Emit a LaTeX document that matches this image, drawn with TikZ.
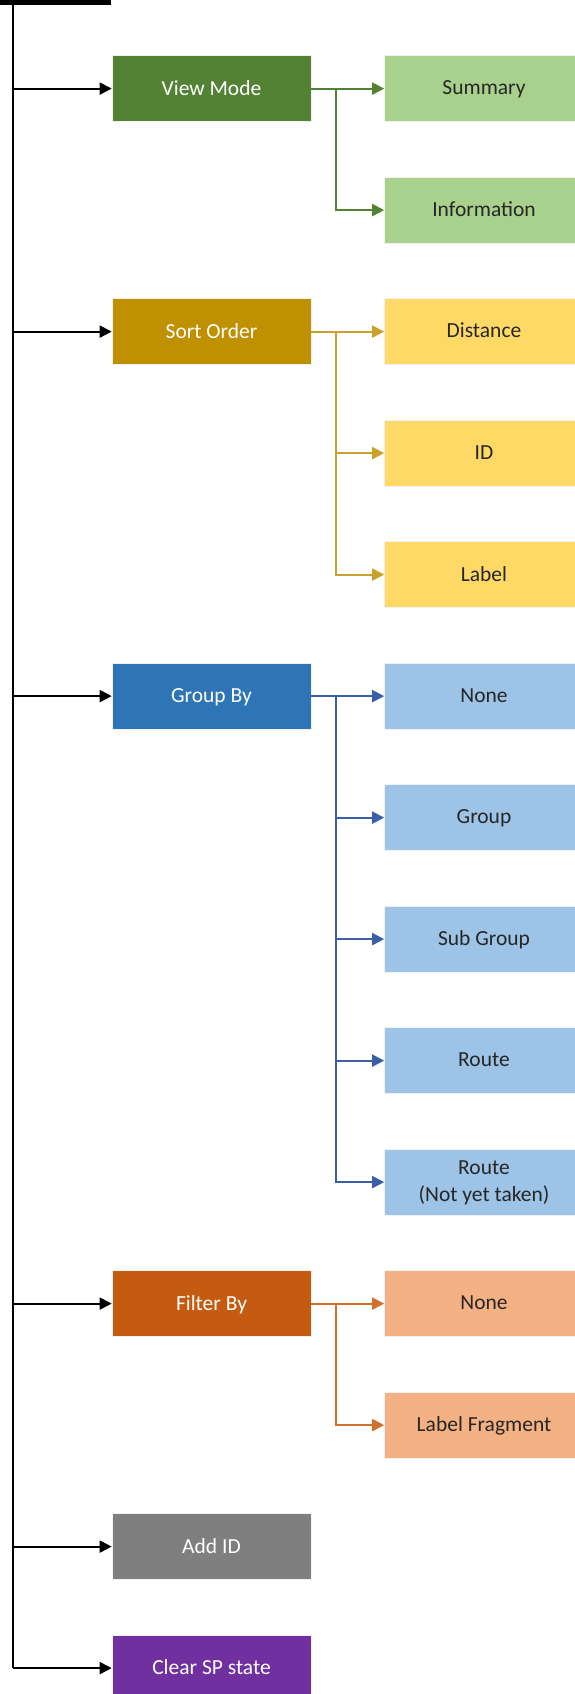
\documentclass[tikz,border=0pt]{standalone}
\usepackage{fontspec}
\setmainfont{Carlito}
\usetikzlibrary{arrows.meta}

\definecolor{modedark}{HTML}{548235}
\definecolor{modelight}{HTML}{A9D18E}
\definecolor{sortdark}{HTML}{BF9000}
\definecolor{sortlight}{HTML}{FFD966}
\definecolor{sortline}{HTML}{C9A12B}
\definecolor{groupdark}{HTML}{2E75B6}
\definecolor{grouplight}{HTML}{9DC3E6}
\definecolor{groupline}{HTML}{3B5EA8}
\definecolor{filterdark}{HTML}{C55A11}
\definecolor{filterlight}{HTML}{F4B183}
\definecolor{filterline}{HTML}{D0702A}
\definecolor{adddark}{HTML}{7F7F7F}
\definecolor{cleardark}{HTML}{7030A0}

\tikzset{
    box/.style={rectangle, draw=white!90!gray, line width=0.6pt, minimum width=199pt,
        minimum height=66pt, inner sep=0pt, align=center, text depth=0.2em,
        font=\fontsize{21.5}{27}\selectfont},
    menubox/.style={box, fill=#1, text=white},
    optionbox/.style={box, fill=#1, text=black!85},
    trunkarrow/.style={black, line width=1.8pt, -{Triangle[length=12pt,width=12pt]}},
    branch/.style={#1, line width=2pt, -{Triangle[length=12pt,width=12pt]}}
}

\begin{document}
\begin{tikzpicture}[x=1pt, y=-1pt]
    \useasboundingbox (0,0) rectangle (575,1694);

    % Root (cut off at the top)
    \fill[black] (0,0) rectangle (111,5);
    \coordinate (top) at (13,0);

    % Menu entries
    \node[menubox=modedark]   (viewmode)  at (211.5,88.6)   {View Mode};
    \node[menubox=sortdark]   (sortorder) at (211.5,331.6)  {Sort Order};
    \node[menubox=groupdark]  (groupby)   at (211.5,696.1)  {Group By};
    \node[menubox=filterdark] (filterby)  at (211.5,1303.6) {Filter By};
    \node[menubox=adddark]    (addid)     at (211.5,1546.6) {Add ID};
    \node[menubox=cleardark]  (clearsp)   at (211.5,1668.1) {Clear SP state};

    % Options
    \node[optionbox=modelight]   (summary)    at (484,88.6)   {Summary};
    \node[optionbox=modelight]   (info)       at (484,210.1)  {Information};
    \node[optionbox=sortlight]   (distance)   at (484,331.6)  {Distance};
    \node[optionbox=sortlight]   (sortid)     at (484,453.1)  {ID};
    \node[optionbox=sortlight]   (sortlabel)  at (484,574.6)  {Label};
    \node[optionbox=grouplight]  (groupnone)  at (484,696.1)  {None};
    \node[optionbox=grouplight]  (group)      at (484,817.6)  {Group};
    \node[optionbox=grouplight]  (subgroup)   at (484,939.1)  {Sub Group};
    \node[optionbox=grouplight]  (route)      at (484,1060.6) {Route};
    \node[optionbox=grouplight]  (routenext)  at (484,1182.1) {Route\\(Not yet taken)};
    \node[optionbox=filterlight] (filternone) at (484,1303.6) {None};
    \node[optionbox=filterlight] (fragment)   at (484,1425.1) {Label Fragment};

    % Trunk
    \draw[black, line width=1.8pt] (top) -- (clearsp.west -| top);
    \draw[trunkarrow] (viewmode.west -| top) -- (viewmode.west);
    \draw[trunkarrow] (sortorder.west -| top) -- (sortorder.west);
    \draw[trunkarrow] (groupby.west -| top) -- (groupby.west);
    \draw[trunkarrow] (filterby.west -| top) -- (filterby.west);
    \draw[trunkarrow] (addid.west -| top) -- (addid.west);
    \draw[trunkarrow] (clearsp.west -| top) -- (clearsp.west);

    % Branches
    \draw[branch=modedark] (viewmode.east) -- (summary.west);
    \draw[branch=modedark] ([xshift=25pt]viewmode.east) |- (info.west);

    \draw[branch=sortline] (sortorder.east) -- (distance.west);
    \draw[branch=sortline] ([xshift=25pt]sortorder.east) |- (sortid.west);
    \draw[branch=sortline] ([xshift=25pt]sortorder.east) |- (sortlabel.west);

    \draw[branch=groupline] (groupby.east) -- (groupnone.west);
    \draw[branch=groupline] ([xshift=25pt]groupby.east) |- (group.west);
    \draw[branch=groupline] ([xshift=25pt]groupby.east) |- (subgroup.west);
    \draw[branch=groupline] ([xshift=25pt]groupby.east) |- (route.west);
    \draw[branch=groupline] ([xshift=25pt]groupby.east) |- (routenext.west);

    \draw[branch=filterline] (filterby.east) -- (filternone.west);
    \draw[branch=filterline] ([xshift=25pt]filterby.east) |- (fragment.west);
\end{tikzpicture}
\end{document}
